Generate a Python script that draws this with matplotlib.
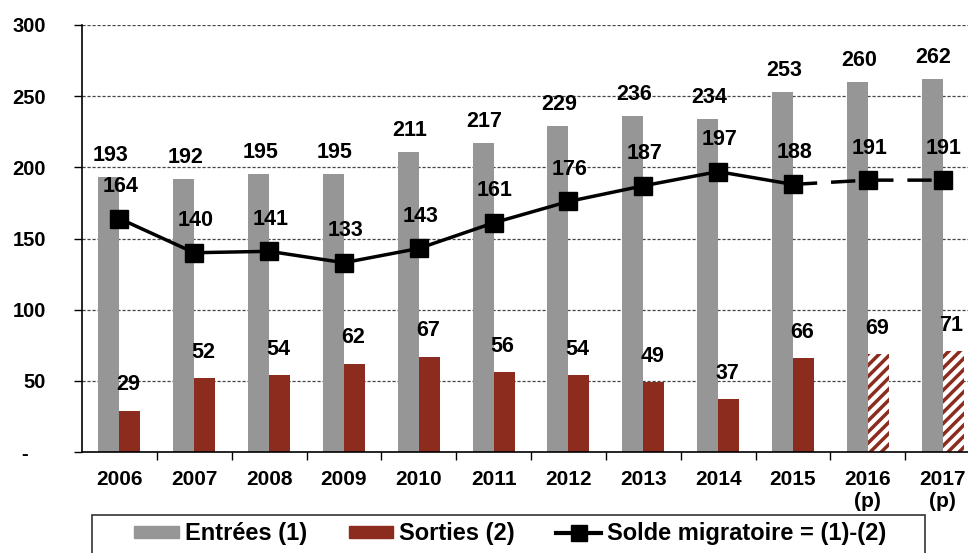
import matplotlib.pyplot as plt
import numpy as np
from matplotlib.patches import Patch, Rectangle
from matplotlib.lines import Line2D

plt.rcParams['font.family'] = ['Liberation Sans', 'DejaVu Sans']
plt.rcParams['font.weight'] = 'bold'
plt.rcParams['hatch.linewidth'] = 2.5

# données (milliers)
annees = ['2006', '2007', '2008', '2009', '2010', '2011', '2012', '2013',
          '2014', '2015', '2016\n(p)', '2017\n(p)']
entrees = [193, 192, 195, 195, 211, 217, 229, 236, 234, 253, 260, 262]
sorties = [29, 52, 54, 62, 67, 56, 54, 49, 37, 66, 69, 71]
solde = [164, 140, 141, 133, 143, 161, 176, 187, 197, 188, 191, 191]
provisoire = [False] * 10 + [True, True]
y_ticks = [0, 50, 100, 150, 200, 250, 300]
y_labels = ['-   ', '50', '100', '150', '200', '250', '300']

gris = '#969696'
rouge = '#8B2C1E'

fig = plt.figure(figsize=(9.68, 5.53), dpi=100)
ax = fig.add_axes([82 / 968, 101 / 553, 898 / 968, 427 / 553])

x = np.arange(len(annees))
w = 0.28

# grille
for yv in y_ticks[1:]:
    ax.axhline(yv, color='#444444', lw=0.9, ls=(0, (2.5, 1.5)), zorder=0)

ax.bar(x - w / 2, entrees, w, color=gris, zorder=2)
for i in range(len(x)):
    if provisoire[i]:
        ax.bar(x[i] + w / 2, sorties[i], w, color='white', edgecolor=rouge,
               hatch='///', lw=0, zorder=2)
    else:
        ax.bar(x[i] + w / 2, sorties[i], w, color=rouge, zorder=2)

# solde migratoire
ax.plot(x[:10], solde[:10], color='black', lw=2.5, zorder=3)
ax.plot(x[9:], solde[9:], color='black', lw=2.5, ls=(0, (7, 4)), zorder=3)
ax.plot(x, solde, ls='none', marker='s', ms=13, color='black', zorder=4)

fs = 15.5
for i in range(len(x)):
    ax.annotate(str(entrees[i]), (x[i] - w / 2 + 0.02, entrees[i]),
                xytext=(0, 8), textcoords='offset points',
                ha='center', va='bottom', fontsize=fs, fontweight='bold')
    ax.annotate(str(sorties[i]), (x[i] + w / 2 - 0.02, sorties[i]),
                xytext=(0, 11), textcoords='offset points',
                ha='center', va='bottom', fontsize=fs, fontweight='bold')
    ax.annotate(str(solde[i]), (x[i], solde[i]),
                xytext=(1, 23), textcoords='offset points',
                ha='center', va='center', fontsize=fs, fontweight='bold')

ax.set_xlim(-0.5, len(x) - 0.5)
ax.set_ylim(0, 300)
ax.set_yticks(y_ticks)
ax.set_yticklabels(y_labels, fontsize=14.5, fontweight='bold')
ax.tick_params(axis='y', length=6, width=1, pad=20)

ax.set_xticks(x)
ax.set_xticklabels(annees, fontsize=15, fontweight='bold')
ax.set_xticks(np.arange(0.5, len(x) - 0.5, 1), minor=True)
ax.tick_params(axis='x', which='major', length=0, pad=13)
ax.tick_params(axis='x', which='minor', length=6, width=1, direction='out')

ax.spines['top'].set_visible(False)
ax.spines['right'].set_visible(False)
ax.spines['left'].set_linewidth(1.2)
ax.spines['bottom'].set_linewidth(1.2)

# légende (cadre dessiné à part)
fig.patches.append(Rectangle((92 / 968, -0.05), (925 - 92) / 968,
                             (553 - 515) / 553 + 0.05,
                             transform=fig.transFigure, fill=False,
                             edgecolor='#333333', lw=1.2))
handles = [Patch(color=gris), Patch(color=rouge),
           Line2D([], [], color='black', lw=3, marker='s', ms=11)]
labels = ['Entrées (1)', 'Sorties (2)', 'Solde migratoire = (1)-(2)']
fig.legend(handles, labels, loc='upper left', ncol=3,
           bbox_to_anchor=(132 / 968, 1 - 520 / 553),
           prop={'size': 17, 'weight': 'bold'},
           frameon=False, handlelength=1.9, handleheight=0.4,
           handletextpad=0.25, columnspacing=1.75,
           borderpad=0.1, borderaxespad=0)

fig.savefig('out.png', dpi=100)
